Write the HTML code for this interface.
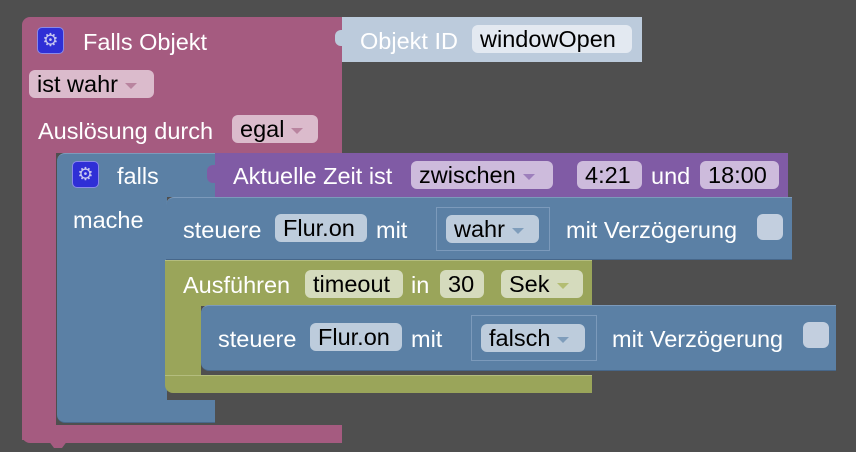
<!DOCTYPE html>
<html><head><meta charset="utf-8"><style>
*{margin:0;padding:0;box-sizing:border-box}
body{width:856px;height:452px;background:#4f4f4f;position:relative;overflow:hidden;font-family:"Liberation Sans",sans-serif;font-size:23.5px}
div{position:absolute}
.t{color:#fff;white-space:nowrap;line-height:24px}
.f{color:#000;border-radius:6px;line-height:28px;height:28px;white-space:nowrap;padding-left:8px;overflow:hidden}
.dd::after{content:"";display:inline-block;margin-left:7px;vertical-align:middle;border-left:6px solid transparent;border-right:6px solid transparent;border-top:6px solid var(--a);}
.pk{background:#a55b80}
.bl{background:#5b80a5;border-top:1px solid #7c9abb;border-bottom:1px solid #47678a}
.pu{background:#805ba5}
.ol{background:#9aa55a;border-top:1px solid #b4bd7e}
.gear{width:27px;height:27px;background:#2f2fd6;border:1px solid #8a8ae8;border-radius:5px;color:#c8c8f0;font-size:18px;text-align:center;line-height:25px}
.cb{width:26px;height:26px;background:#c3cfdf;border-radius:6px}
</style></head><body>
<!-- pink block -->
<div class="pk" style="left:22px;top:17px;width:320px;height:136px;border-radius:8px 0 0 0"></div>
<div class="pk" style="left:22px;top:150px;width:34px;height:290px"></div>
<div class="pk" style="left:22px;top:425px;width:320px;height:18px;border-radius:0 0 0 8px"></div>
<div class="pk" style="left:48px;top:440px;width:20px;height:8px;clip-path:polygon(0 0,100% 0,70% 100%,30% 100%)"></div>
<div class="gear" style="left:37px;top:27px">⚙</div>
<div class="t" style="left:83px;top:30px">Falls Objekt</div>
<div class="f dd" style="left:29px;top:70px;width:125px;background:#dbbbcc;--a:#b9849f">ist wahr</div>
<div class="t" style="left:38px;top:119px">Auslösung durch</div>
<div class="f dd" style="left:232px;top:115px;width:86px;background:#dbbbcc;--a:#b9849f">egal</div>
<!-- object id -->
<div style="left:342px;top:17px;width:300px;height:45px;background:#bccbdc"></div>
<div style="left:335px;top:30px;width:10px;height:16px;background:#bccbdc;border-radius:6px 0 0 6px"></div>
<div class="t" style="left:360px;top:29px">Objekt ID</div>
<div class="f" style="left:472px;top:25px;width:160px;background:#e3e9f1">windowOpen</div>
<!-- blue falls block -->
<div class="bl" style="left:57px;top:153px;width:158px;height:44px;border-radius:8px 0 0 0;border-bottom:none"></div>
<div style="left:57px;top:196px;width:110px;height:210px;background:#5b80a5"></div>
<div class="bl" style="left:57px;top:400px;width:158px;height:23px;border-radius:0 0 0 8px;border-top:none"></div>
<div class="gear" style="left:72px;top:161px">⚙</div>
<div class="t" style="left:117px;top:164px">falls</div>
<div class="t" style="left:73px;top:208px">mache</div>
<!-- purple -->
<div class="pu" style="left:215px;top:153px;width:573px;height:44px"></div>
<div class="pu" style="left:207px;top:165px;width:10px;height:18px;border-radius:6px 0 0 6px"></div>
<div class="t" style="left:233px;top:164px">Aktuelle Zeit ist</div>
<div class="f dd" style="left:411px;top:161px;width:142px;background:#cdbbdc;--a:#9d7fbc">zwischen</div>
<div class="f" style="left:577px;top:161px;width:65px;background:#cdbbdc">4:21</div>
<div class="t" style="left:651px;top:164px">und</div>
<div class="f" style="left:700px;top:161px;width:79px;background:#cdbbdc">18:00</div>
<!-- steuere 1 -->
<div class="bl" style="left:166px;top:197px;width:626px;height:63px;border-radius:8px 0 0 0"></div>
<div class="t" style="left:183px;top:218px">steuere</div>
<div class="f" style="left:275px;top:214px;width:92px;background:#bdccdc">Flur.on</div>
<div class="t" style="left:376px;top:218px">mit</div>
<div style="left:436px;top:207px;width:114px;height:44px;background:#5b80a5;border:1px solid #7c9abb"></div>
<div class="f dd" style="left:446px;top:215px;width:93px;background:#bdccdc;--a:#7f9dbb">wahr</div>
<div class="t" style="left:566px;top:218px">mit Verzögerung</div>
<div class="cb" style="left:757px;top:214px"></div>
<!-- olive -->
<div class="ol" style="left:165px;top:260px;width:427px;height:46px"></div>
<div style="left:165px;top:300px;width:36px;height:80px;background:#9aa55a"></div>
<div class="ol" style="left:165px;top:375px;width:427px;height:18px;border-radius:0 0 0 8px;border-top:1px solid #b4bd7e"></div>
<div class="t" style="left:183px;top:273px">Ausführen</div>
<div class="f" style="left:305px;top:270px;width:98px;background:#d5dbbd">timeout</div>
<div class="t" style="left:411px;top:273px">in</div>
<div class="f" style="left:440px;top:270px;width:44px;background:#d5dbbd">30</div>
<div class="f dd" style="left:501px;top:270px;width:82px;background:#d5dbbd;--a:#b3bd72">Sek</div>
<!-- steuere 2 -->
<div class="bl" style="left:201px;top:305px;width:635px;height:66px;border-radius:8px 0 0 8px"></div>
<div class="t" style="left:218px;top:327px">steuere</div>
<div class="f" style="left:310px;top:323px;width:92px;background:#bdccdc">Flur.on</div>
<div class="t" style="left:411px;top:327px">mit</div>
<div style="left:471px;top:315px;width:126px;height:46px;background:#5b80a5;border:1px solid #7c9abb"></div>
<div class="f dd" style="left:481px;top:324px;width:104px;background:#bdccdc;--a:#7f9dbb">falsch</div>
<div class="t" style="left:612px;top:327px">mit Verzögerung</div>
<div class="cb" style="left:803px;top:322px"></div>
</body></html>
